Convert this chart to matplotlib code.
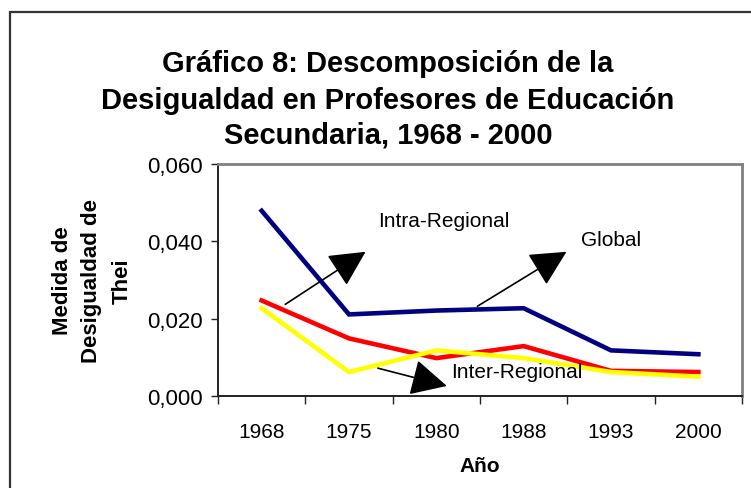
import matplotlib
matplotlib.use("Agg")
import matplotlib.pyplot as plt
from matplotlib.patches import Rectangle
from matplotlib.ticker import FixedLocator, FuncFormatter

plt.rcParams["font.family"] = ["Liberation Sans", "DejaVu Sans"]

years = ["1968", "1975", "1980", "1988", "1993", "2000"]
global_vals = [0.0479, 0.0211, 0.0221, 0.0227, 0.0118, 0.0108]
intra_vals = [0.0247, 0.0149, 0.0098, 0.0129, 0.0065, 0.0062]
inter_vals = [0.0227, 0.0062, 0.0118, 0.0098, 0.0062, 0.0050]

title_lines = [
    "Gráfico 8: Descomposición de la",
    "Desigualdad en Profesores de Educación",
    "Secundaria, 1968 - 2000",
]

W, H = 751, 489
fig = plt.figure(figsize=(W / 100, H / 100), dpi=100)
fig.patch.set_facecolor("white")

# outer chart border (right/bottom edges fall outside the picture)
fig.patches.append(Rectangle((10 / W, -0.1), 1.2, (H - 13) / H + 0.1,
                             transform=fig.transFigure, fill=False,
                             edgecolor="#333333", linewidth=1.6))

ax = fig.add_axes([218 / W, 1 - 397 / H, (742 - 218) / W, (397 - 165) / H])
x = list(range(len(years)))
ax.plot(x, global_vals, color="#000080", lw=3.3, solid_joinstyle="miter")
ax.plot(x, intra_vals, color="#ff0000", lw=3.3, solid_joinstyle="miter")
ax.plot(x, inter_vals, color="#ffff00", lw=3.3, solid_joinstyle="miter")

ax.set_xlim(-0.5, len(years) - 0.5)
ax.set_ylim(0, 0.06)
ax.set_yticks([0, 0.02, 0.04, 0.06])
ax.yaxis.set_major_formatter(FuncFormatter(lambda v, p: f"{v:.3f}".replace(".", ",")))
ax.set_xticks(x)
ax.set_xticklabels(years)
ax.xaxis.set_minor_locator(FixedLocator([i - 0.5 for i in range(len(years) + 1)]))
ax.tick_params(axis="x", which="major", length=0, pad=19, labelsize=15)
ax.tick_params(axis="x", which="minor", length=6, width=1, direction="out", color="#222222")
ax.tick_params(axis="y", length=5, width=1, direction="out", pad=6, labelsize=16, color="#222222")

for side in ("left", "bottom"):
    ax.spines[side].set_color("#222222")
    ax.spines[side].set_linewidth(1.4)
for side in ("top", "right"):
    ax.spines[side].set_color("#808080")
    ax.spines[side].set_linewidth(2)

arrow = dict(arrowstyle="-|>,head_length=0.75,head_width=0.38", mutation_scale=30,
             lw=1.2, color="black", shrinkA=0, shrinkB=0)
ax.annotate("", xy=(1.19, 0.0373), xytext=(0.27, 0.0237), arrowprops=arrow)
ax.annotate("", xy=(3.49, 0.0373), xytext=(2.47, 0.0232), arrowprops=arrow)
ax.annotate("", xy=(2.12, 0.0026), xytext=(1.33, 0.0072), arrowprops=arrow)
ax.text(1.33, 0.0453, "Intra-Regional", fontsize=15, va="center", ha="left")
ax.text(3.66, 0.0404, "Global", fontsize=15, va="center", ha="left")
ax.text(2.17, 0.0064, "Inter-Regional", fontsize=15, va="center", ha="left")

for line, base in zip(title_lines, [72, 109, 144]):
    fig.text(388 / W, 1 - base / H, line, ha="center", va="baseline",
             fontsize=21, fontweight="bold")

fig.text(92 / W, 1 - 281 / H, "Medida de\nDesigualdad de\nThei", rotation=90,
         ha="center", va="center", multialignment="center",
         fontsize=16, fontweight="bold", linespacing=1.55)
fig.text(480 / W, 1 - 467 / H, "Año", ha="center", va="center",
         fontsize=15, fontweight="bold")

fig.savefig("out.png", dpi=100)
